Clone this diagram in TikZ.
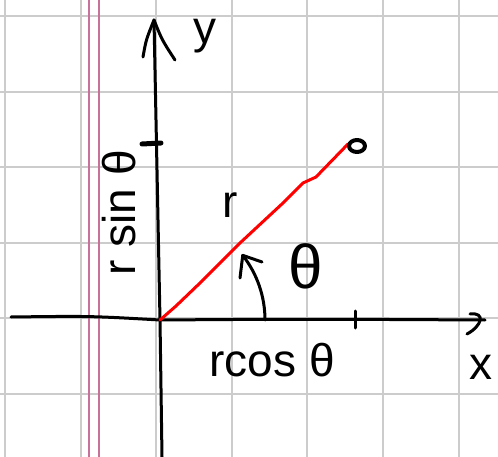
\documentclass[tikz,border=0pt]{standalone}
\usepackage{fontspec}
\setmainfont{Liberation Sans}
\tikzset{
  gridline/.style={draw=black!20, line width=2pt},
  marginline/.style={draw=pinkline, line width=1.6pt},
  ink/.style={draw=black, line width=3pt, line cap=round, line join=round},
  redink/.style={draw=red, line width=3pt, line cap=round, line join=round},
  hand/.style={inner sep=0pt, text=black, font=\fontsize{46}{46}\selectfont},
}
\definecolor{pinkline}{HTML}{C8729A}
\begin{document}
\begin{tikzpicture}[x=1pt,y=-1pt]
\useasboundingbox (0,0) rectangle (498,457);
\fill[white] (0,0) rectangle (498,457);
% grid
\foreach \gx in {5,80.6,156.2,231.8,307.4,383,458.6}
  \draw[gridline] (\gx,0) -- (\gx,457);
\foreach \gy in {16,91.6,167.2,242.8,318.4,394}
  \draw[gridline] (0,\gy) -- (498,\gy);
% margin
\draw[marginline] (89,0) -- (89,457);
\draw[marginline] (99,0) -- (99,457);
% coordinates
\coordinate (O) at (160,320);
\coordinate (ytop) at (154,20);
\coordinate (ybot) at (162,457);
\coordinate (xleft) at (11,317);
\coordinate (xright) at (485,320);
\coordinate (P) at (348,144);
% axes
\draw[ink] (ybot) -- (O) -- (ytop);
\draw[ink] (143,57) .. controls (146,40) .. (ytop) .. controls (162,40) .. (175,60);
\draw[ink] (xleft) .. controls (90,316) .. (O) .. controls (300,319) .. (xright);
\draw[ink] (470,314) .. controls (486,312) and (482,326) .. (467,334);
% ticks
\draw[ink, line width=5pt] (142,144) -- (161,143);
\draw[ink] (355,311) -- (355,328);
% red radius
\draw[redink] (O) -- (176,306) -- (200,283) -- (240,243) -- (283,203) -- (303,183) -- (316,177) -- (P);
\draw[ink, line width=4pt] (357,146) ellipse (8 and 6);
\node[circle, inner sep=0pt, minimum size=1pt] (Pt) at (357,146) {};
% angle arc
\draw[ink] (265,320) arc[start angle=0, end angle=-38, radius=105] coordinate (atip);
\draw[ink] (240,278) -- (atip) -- (262,262);
% labels
\node[hand] (ylab) at (205,36) {y};
\node[hand] (xlab) at (481,367) {x};
\node[hand] (rlab) at (230,205) {r};
\node[hand, font=\fontsize{62}{62}\selectfont] (thlab) at (306,266) {θ};
\node[hand] (rcos) at (272,360) {rcos θ};
\node[hand, rotate=90, font=\fontsize{46}{46}\selectfont] (rsin) at (119,213) {r sin θ};
\end{tikzpicture}
\end{document}
